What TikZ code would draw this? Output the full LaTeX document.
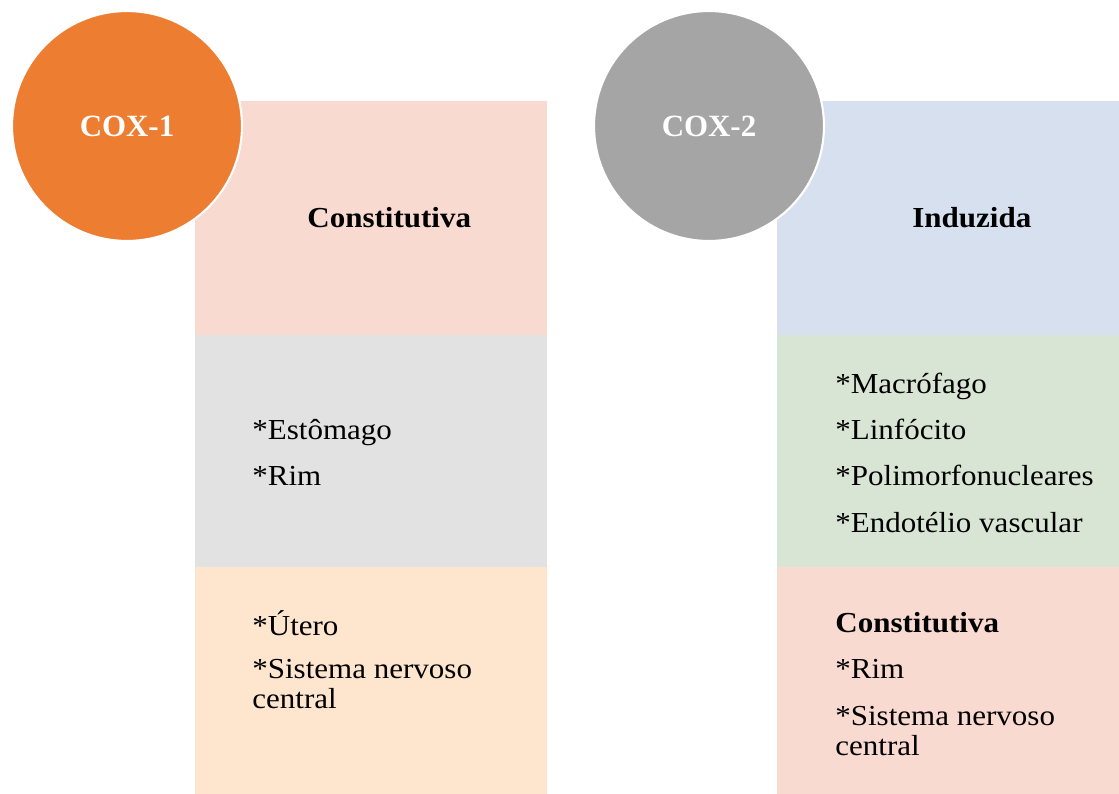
\documentclass[tikz,border=0pt]{standalone}
\usepackage{fontspec}
\setmainfont{Liberation Serif}[FakeStretch=1.07]
\newfontfamily\coxfont{Liberation Serif}
\usepackage{tikz}

\definecolor{coxorange}{RGB}{237,125,49}
\definecolor{coxgray}{RGB}{165,165,165}
\definecolor{pinkbox}{RGB}{248,218,209}
\definecolor{graybox}{RGB}{226,226,226}
\definecolor{peachbox}{RGB}{253,230,205}
\definecolor{bluebox}{RGB}{214,224,238}
\definecolor{greenbox}{RGB}{217,229,212}

\newcommand{\itemfont}{\fontsize{16.5}{19}\selectfont}
\tikzset{
    coxcircle/.style={circle, draw=white, line width=1.2pt, minimum size=4.6cm,
        inner sep=0pt, text=white, font=\coxfont\fontsize{17.6}{20}\selectfont\bfseries},
    item/.style={anchor=base west, inner sep=0pt, font=\itemfont},
    heading/.style={anchor=base west, inner sep=0pt, font=\itemfont\bfseries},
}

\begin{document}
\begin{tikzpicture}[x=0.02cm,y=-0.02cm]
\useasboundingbox (0,0) rectangle (1119,794);

% COX-1 column
\fill[pinkbox] (195,101) rectangle (547,335);
\fill[graybox] (195,335) rectangle (547,567);
\fill[peachbox] (195,567) rectangle (547,794);

% COX-2 column
\fill[bluebox] (777,101) rectangle (1119,335);
\fill[greenbox] (777,335) rectangle (1119,567);
\fill[pinkbox] (777,567) rectangle (1119,794);

\node[coxcircle, fill=coxorange] (cox1) at (127,126) {COX-1};
\node[coxcircle, fill=coxgray] (cox2) at (709,126) {COX-2};

\node[heading] (const1) at (307,227) {Constitutiva};
\node[item] (estomago) at (252,439) {*Estômago};
\node[item] (rim1) at (252,485) {*Rim};
\node[item] (utero) at (252,635) {*Útero};
\node[item] (snc1a) at (252,678) {*Sistema nervoso};
\node[item] (snc1b) at (252,708) {central};

\node[heading] (induzida) at (912,227) {Induzida};
\node[item] (macro) at (835,393) {*Macrófago};
\node[item] (linfo) at (835,439) {*Linfócito};
\node[item] (polimorfo) at (835,485) {*Polimorfonucleares};
\node[item] (endo) at (835,532) {*Endotélio vascular};
\node[heading] (const2) at (835,632) {Constitutiva};
\node[item] (rim2) at (835,678) {*Rim};
\node[item] (snc2a) at (835,725) {*Sistema nervoso};
\node[item] (snc2b) at (835,755) {central};
\end{tikzpicture}
\end{document}
